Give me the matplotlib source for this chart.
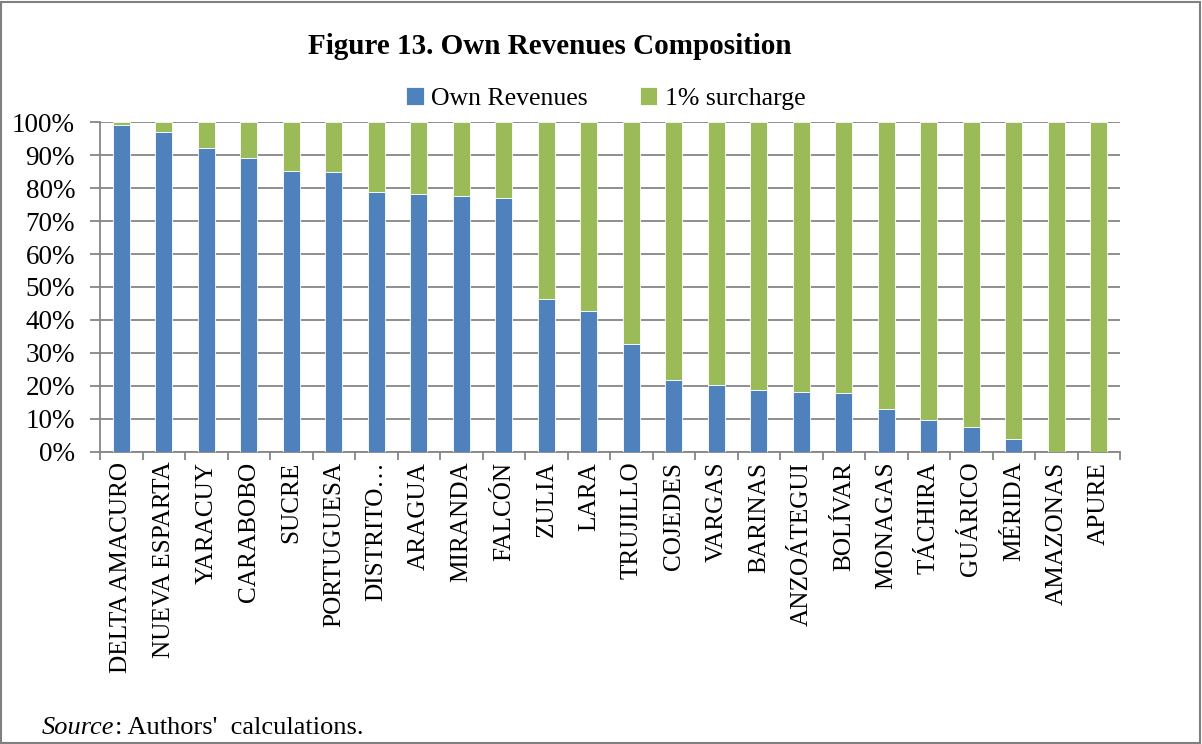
import numpy as np
import matplotlib
matplotlib.use("Agg")
from matplotlib import pyplot as plt
from matplotlib.patches import Rectangle
from matplotlib.ticker import FixedLocator, PercentFormatter

plt.rcParams['font.family'] = ['Liberation Serif', 'DejaVu Serif']

states = ['DELTA AMACURO', 'NUEVA ESPARTA', 'YARACUY', 'CARABOBO', 'SUCRE',
          'PORTUGUESA', 'DISTRITO…', 'ARAGUA', 'MIRANDA', 'FALCÓN', 'ZULIA',
          'LARA', 'TRUJILLO', 'COJEDES', 'VARGAS', 'BARINAS', 'ANZOÁTEGUI',
          'BOLÍVAR', 'MONAGAS', 'TÁCHIRA', 'GUÁRICO', 'MÉRIDA', 'AMAZONAS',
          'APURE']
own_rev = [99.0, 96.9, 92.0, 89.2, 85.3, 85.0, 78.9, 78.3, 77.7, 77.1, 46.3,
           42.7, 32.7, 21.9, 20.2, 18.9, 18.1, 17.8, 13.0, 9.6, 7.5, 3.85,
           0.0, 0.0]
surcharge = [100 - v for v in own_rev]

blue = '#4F81BD'
green = '#9BBB59'
grid_c = '#868686'

fig = plt.figure(figsize=(12.02, 7.44), dpi=100)
ax = fig.add_axes([0.0832, 0.3925, 0.8486, 0.4435])

x = np.arange(len(states))
ax.bar(x, own_rev, width=0.4, color=blue, edgecolor='white', linewidth=0.6,
       label='Own Revenues', zorder=3)
ax.bar(x, surcharge, width=0.4, bottom=own_rev, color=green, edgecolor='white',
       linewidth=0.6, label='1% surcharge', zorder=3)

ax.set_xlim(-0.5, len(states) - 0.5)
ax.set_ylim(0, 100)
ax.set_yticks(np.arange(0, 101, 10))
ax.yaxis.set_major_formatter(PercentFormatter(decimals=0))
ax.grid(axis='y', color=grid_c, linewidth=1.3, zorder=0)

ax.set_xticks(x)
ax.set_xticklabels(states, rotation=90, fontsize=18.2)
# tick marks sit between the categories
ax.xaxis.set_minor_locator(FixedLocator(np.arange(-0.5, len(states), 1)))
ax.tick_params(axis='x', which='major', length=0, pad=7)
ax.tick_params(axis='x', which='minor', length=6, width=1.3, color=grid_c)
ax.tick_params(axis='y', length=7, width=1.3, color=grid_c, labelsize=19.5, pad=11)

for s in ['top', 'right']:
    ax.spines[s].set_visible(False)
for s in ['left', 'bottom']:
    ax.spines[s].set_color(grid_c)
    ax.spines[s].set_linewidth(1.3)

fig.text(0.4576, 0.938, 'Figure 13. Own Revenues Composition', ha='center',
         va='center', fontsize=21, fontweight='bold')
fig.legend(loc='center', bbox_to_anchor=(0.504, 0.868), ncol=2, frameon=False,
           fontsize=18.5, handlelength=0.7, handleheight=0.7, handletextpad=0.3,
           columnspacing=2.0)

# source note: italic word, then plain text right after it
src = fig.text(0.035, 0.0215, 'Source', fontsize=19, style='italic', va='center')
ax.annotate(": Authors'  calculations.", xy=(1, 0), xycoords=src,
            va='bottom', ha='left', fontsize=19, annotation_clip=False)

fig.add_artist(Rectangle((0.001, 0.002), 0.997, 0.995, transform=fig.transFigure,
                         fill=False, edgecolor='#808080', linewidth=1.5))

fig.savefig('out.png', dpi=100)
